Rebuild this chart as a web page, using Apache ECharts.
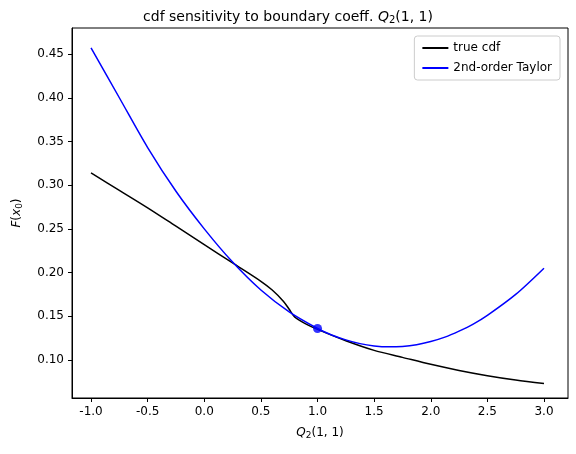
<!DOCTYPE html>
<html><head><meta charset="utf-8">
<script src="https://cdn.jsdelivr.net/npm/echarts@6/dist/echarts.min.js"></script>
<style>html,body{margin:0;padding:0;background:#fff}#c{width:576px;height:454px}</style>
</head><body><div id="c"></div>
<script>
const trueX = [-1,-0.75,-0.5,-0.25,0,0.25,0.5,0.6,0.7,0.75,0.8,0.9,1,1.25,1.5,1.75,2,2.25,2.5,2.75,3];
const trueY = [0.314,0.294,0.274,0.253,0.232,0.211,0.19,0.18,0.167,0.158,0.149,0.141,0.135,0.122,0.111,0.103,0.095,0.088,0.082,0.077,0.073];
const taylorX = [-1,-0.75,-0.5,-0.25,0,0.25,0.5,0.75,1,1.125,1.25,1.375,1.5,1.625,1.75,1.875,2,2.125,2.25,2.375,2.5,2.75,3];
const taylorY = [0.457,0.400,0.343,0.293,0.250,0.212,0.180,0.155,0.136,0.1286,0.123,0.1187,0.1161,0.115,0.1155,0.1175,0.1211,0.1261,0.133,0.141,0.151,0.175,0.205];
const pointXY = [1, 0.136];
const xTicks = [-1,-0.5,0,0.5,1,1.5,2,2.5,3];
const yTicks = [0.10,0.15,0.20,0.25,0.30,0.35,0.40,0.45];
const zip = (a,b)=>a.map((v,i)=>[v,b[i]]);
const ch = echarts.init(document.getElementById('c'));
const font = 'DejaVu Sans';
ch.setOption({
  animation:false,
  textStyle:{fontFamily:font},
  title:{text:'cdf sensitivity to boundary coeff. {i|Q}{s|2}(1, 1)',left:'center',top:4,
    textStyle:{fontSize:14,fontWeight:'normal',color:'#000',rich:{i:{fontStyle:'italic',fontSize:14,fontFamily:font},s:{fontSize:10,verticalAlign:'bottom',padding:[6,0,0,0],fontFamily:font}}}},
  grid:{left:72,right:8,top:28,bottom:56,show:true,borderColor:'#000',borderWidth:1},
  legend:{right:16,top:36,orient:'vertical',itemWidth:26,itemHeight:2,itemGap:8,
    backgroundColor:'#fff',borderColor:'#ccc',borderWidth:1,borderRadius:3,padding:[6,8],
    textStyle:{fontSize:12,color:'#000'},data:[{name:'true cdf',icon:'rect'},{name:'2nd-order Taylor',icon:'rect'}]},
  xAxis:{type:'value',min:-1.168,max:3.212,
    name:'{i|Q}{s|2}(1, 1)',nameLocation:'middle',nameGap:28,
    nameTextStyle:{fontSize:12,color:'#000',rich:{i:{fontStyle:'italic',fontSize:12},s:{fontSize:9,verticalAlign:'bottom',padding:[5,0,0,0]}}},
    splitLine:{show:false},axisLine:{onZero:false,lineStyle:{color:'#000'}},
    axisTick:{customValues:xTicks,length:4,lineStyle:{color:'#000'}},
    axisLabel:{customValues:xTicks,fontSize:12,color:'#000',formatter:v=>v.toFixed(1)}},
  yAxis:{type:'value',min:0.0565,max:0.4798,
    name:'{i|F}({i|x}{s|0})',nameLocation:'middle',nameGap:48,
    nameTextStyle:{fontSize:12,color:'#000',rich:{i:{fontStyle:'italic',fontSize:12},s:{fontSize:9,verticalAlign:'bottom',padding:[5,0,0,0]}}},
    splitLine:{show:false},axisLine:{onZero:false,lineStyle:{color:'#000'}},
    axisTick:{customValues:yTicks,length:4,lineStyle:{color:'#000'}},
    axisLabel:{customValues:yTicks,fontSize:12,color:'#000',formatter:v=>v.toFixed(2)}},
  series:[
    {name:'true cdf',type:'line',data:zip(trueX,trueY),smooth:0.3,showSymbol:false,lineStyle:{color:'#000',width:1.5},itemStyle:{color:'#000'}},
    {name:'2nd-order Taylor',type:'line',data:zip(taylorX,taylorY),smooth:0.3,showSymbol:false,lineStyle:{color:'#0000ff',width:1.5},itemStyle:{color:'#0000ff'}},
    {type:'scatter',data:[pointXY],symbolSize:9,itemStyle:{color:'#0000ff'},z:5}
  ]
});
</script></body></html>
